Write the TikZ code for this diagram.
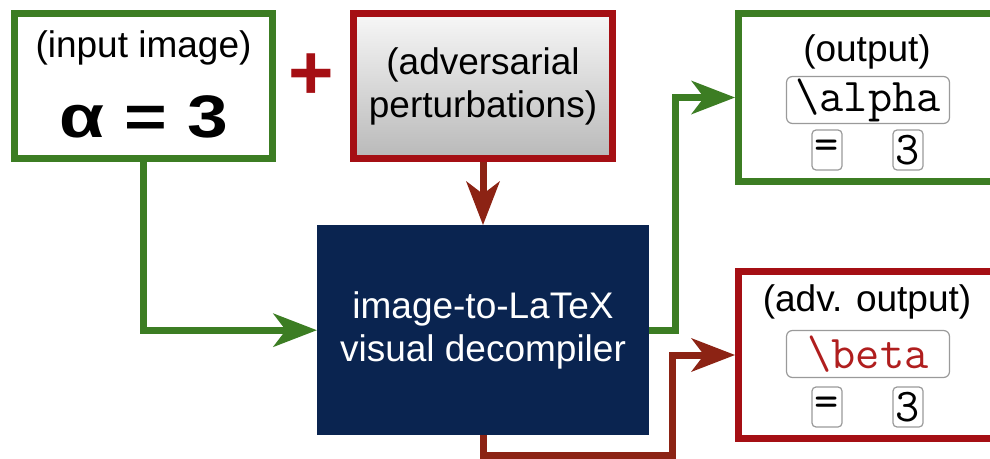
\documentclass[tikz,border=0pt]{standalone}
\usepackage{fontspec}
\usepackage{graphicx}
\setmainfont{Liberation Sans}
\usetikzlibrary{arrows.meta,positioning}
\definecolor{imggreen}{HTML}{3C7D23}
\definecolor{advred}{HTML}{A50F14}
\definecolor{advbrown}{HTML}{8C2314}
\definecolor{decnavy}{HTML}{0A2450}
\definecolor{advtop}{HTML}{F7F7F7}
\definecolor{advbottom}{HTML}{B9B9B9}
\definecolor{tokgray}{HTML}{9A9A9A}
\definecolor{betared}{HTML}{B01E1E}
\newcommand{\figfont}{\fontsize{37}{43}\selectfont}
\newcommand{\tokfont}{\ttfamily\fontsize{47}{47}\selectfont}

\begin{document}
\begin{tikzpicture}[
  x=1pt,y=-1pt,
  >={Stealth[length=44pt,width=34pt,inset=13pt,line width=0pt]},
  imgbox/.style={draw=imggreen,line width=7pt,fill=white,
                 minimum width=258pt,minimum height=145pt},
  pertbox/.style={draw=advred,line width=7pt,top color=advtop,bottom color=advbottom,
                  align=center,font=\figfont,minimum width=259pt,minimum height=145pt},
  decbox/.style={fill=decnavy,text=white,align=center,font=\figfont,inner sep=0pt,
                 minimum width=332pt,minimum height=210pt},
  resbox/.style={draw=#1,line width=7pt,fill=white,minimum width=258pt},
  caption/.style={font=\figfont,inner sep=0pt},
  token/.style={draw=tokgray,line width=1.2pt,rounded corners=6pt,font=\tokfont,inner sep=0pt,
                minimum width=163pt,minimum height=47pt},
  chartok/.style={token,rounded corners=4pt,minimum width=30pt,minimum height=40pt},
  gline/.style={imggreen,line width=7pt,->},
  rline/.style={advbrown,line width=7pt,->}
]
  \useasboundingbox (0,0) rectangle (990,458);
  \clip (0,0) rectangle (990,458);

  \node[imgbox] (inp) at (143.5,86) {};
  \node[pertbox,right=74pt of inp] (adv) {(adversarial\\perturbations)};
  \node[decbox,below=63pt of adv] (dec) {image-to-LaTeX\\visual decompiler};
  \node[resbox=imggreen,minimum height=168pt] (out) at (867.5,97.5) {};
  \node[resbox=advred,minimum height=167pt] (aout) at (867.5,355) {};

  \node[caption] (inpcap) at (143.5,48) {(input image)};
  \node[caption,font=\fontsize{60}{60}\bfseries\selectfont] (inpeq) at (144,117)
    {\scalebox{1.22}[1]{α = 3}};
  \node[caption,text=advred,font=\fontsize{78}{78}\bfseries\selectfont] (plus) at (311,77) {+};

  \node[caption] (outcap) at (867,52) {(output)};
  \node[token] (outsym) at (868,100) {\textbackslash alpha};
  \node[chartok] (outeq) at (827,150) {=};
  \node[chartok] (outval) at (908,150) {3};

  \node[caption] (aoutcap) at (867,302) {(adv. output)};
  \node[token,text=betared] (aoutsym) at (868,354) {\textbackslash beta};
  \node[chartok] (aouteq) at (827,407) {=};
  \node[chartok] (aoutval) at (908,407) {3};

  \draw[gline] (inp.south) |- (dec.west);
  \draw[rline] (adv.south) -- (dec.north);
  \draw[gline] (dec.east) -- ++(26,0) |- (out.west);
  \draw[rline] (dec.south) -- ++(0,20) -- ++(189,0) |- (aout.west);
\end{tikzpicture}
\end{document}
